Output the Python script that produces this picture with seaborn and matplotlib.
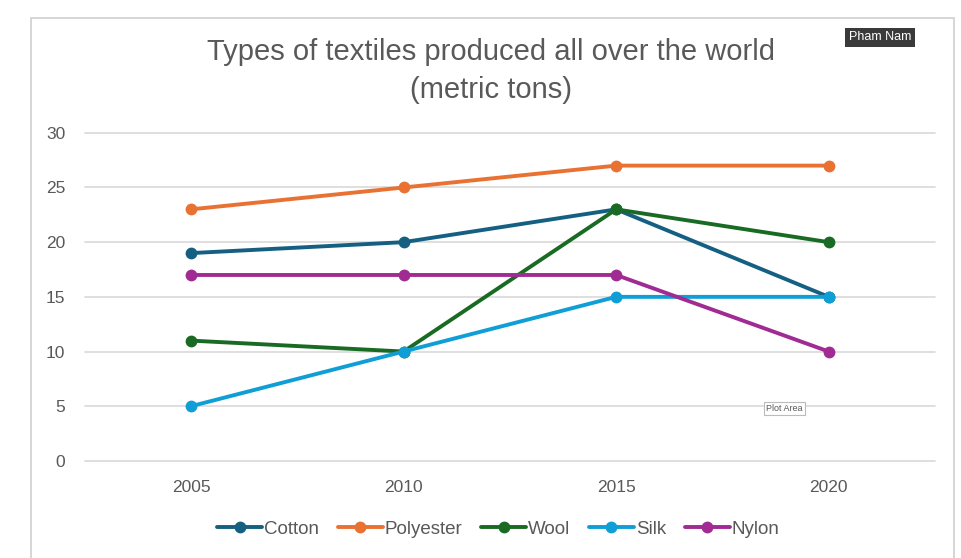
import matplotlib
matplotlib.use("Agg")
import matplotlib.pyplot as plt
import seaborn as sns
import pandas as pd

# data
years = [2005, 2010, 2015, 2020]
cotton = [19, 20, 23, 15]
polyester = [23, 25, 27, 27]
wool = [11, 10, 23, 20]
silk = [5, 10, 15, 15]
nylon = [17, 17, 17, 10]

series = {"Cotton": cotton, "Polyester": polyester, "Wool": wool,
          "Silk": silk, "Nylon": nylon}
colors = {"Cotton": "#156082", "Polyester": "#E97132", "Wool": "#196B24",
          "Silk": "#0F9ED5", "Nylon": "#A02B93"}

rows = []
for name, vals in series.items():
    for y, v in zip(years, vals):
        rows.append({"Year": y, "Value": v, "Type": name})
df = pd.DataFrame(rows)

sns.set_theme(style="white")
plt.rcParams['font.family'] = ['Liberation Sans', 'DejaVu Sans']

fig = plt.figure(figsize=(9.62, 5.58), dpi=100)
ax = fig.add_axes([0.088, 0.174, 0.884, 0.588])

sns.lineplot(data=df, x="Year", y="Value", hue="Type", palette=colors,
             marker="o", markersize=8.5, markeredgewidth=0, linewidth=2.8,
             ax=ax, legend=False)

ax.set_xlim(2002.5, 2022.5)
ax.set_ylim(0, 30)
ax.set_yticks(range(0, 31, 5))
ax.set_xticks(years)
ax.set_xticklabels([str(y) for y in years])
ax.grid(axis="y", color="#D9D9D9", linewidth=1.2)
ax.set_axisbelow(True)
for gl in ax.get_ygridlines():
    gl.set_clip_on(False)
for s in ax.spines.values():
    s.set_visible(False)
ax.tick_params(axis="both", colors="#595959", labelsize=12.5, length=0)
ax.tick_params(axis="x", pad=14)
ax.tick_params(axis="y", pad=14)
ax.set_xlabel("")
ax.set_ylabel("")

fig.text(0.51, 0.873, "Types of textiles produced all over the world\n(metric tons)",
         ha="center", va="center", fontsize=21, color="#595959", linespacing=1.45)

handles = [plt.Line2D([], [], color=colors[n], marker="o", markersize=8.5,
                      linewidth=2.8, markeredgewidth=0) for n in series]
fig.legend(handles, list(series.keys()), loc="center", bbox_to_anchor=(0.518, 0.052),
           ncol=5, frameon=False, fontsize=13.5, handlelength=2.4,
           handletextpad=0.1, columnspacing=1.0, labelcolor="#595959")

# chart border
border = plt.Rectangle((0.032, -0.05), 0.96, 1.018, transform=fig.transFigure,
                       fill=False, edgecolor="#D0D0D0", linewidth=1.2)
fig.add_artist(border)

fig.text(0.915, 0.933, "Pham Nam", ha="center", va="center", fontsize=9,
         color="white", bbox=dict(boxstyle="square,pad=0.3", fc="#3A3A3A", ec="none"))
fig.text(0.815, 0.268, "Plot Area", ha="center", va="center", fontsize=6.5,
         color="#595959", bbox=dict(boxstyle="square,pad=0.25", fc="white", ec="#BBBBBB", lw=0.8))

fig.savefig("out.png", dpi=100)
